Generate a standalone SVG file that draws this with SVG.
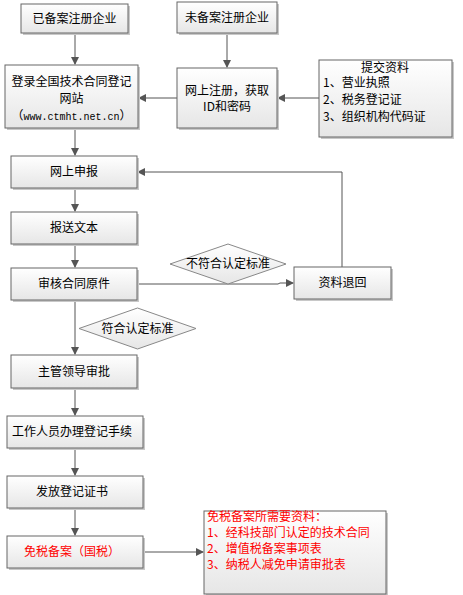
<svg xmlns="http://www.w3.org/2000/svg" width="463" height="595" viewBox="0 0 463 595">
<defs>
<linearGradient id="g" x1="0" y1="0" x2="0" y2="1">
<stop offset="0" stop-color="#ffffff"/>
<stop offset="1" stop-color="#e6e6e6"/>
</linearGradient>
<marker id="ah" markerWidth="8" markerHeight="8" refX="7" refY="4" orient="auto" markerUnits="userSpaceOnUse">
<path d="M0,0 L8,4 L0,8 Z" fill="#555"/>
</marker>
<style>
.box{fill:url(#g);stroke:#666;stroke-width:1}
.sh{fill:#c8c8c8}
.dia{fill:url(#g);stroke:#888;stroke-width:1}
text{font-family:"Noto Sans CJK SC","Noto Sans",sans-serif;font-size:12px;fill:#000}
.mono{font-family:"Liberation Mono","Noto Sans CJK SC",monospace;font-size:10px}
.c{text-anchor:middle}
.red{fill:#ff0000}
.ln{fill:none;stroke:#555;stroke-width:1;marker-end:url(#ah)}
</style>
</defs>
<rect width="463" height="595" fill="#fff"/>
<g id="connectors">
<path class="ln" d="M75,33 V64"/>
<path class="ln" d="M227,33 V67"/>
<path class="ln" d="M177,98 H139"/>
<path class="ln" d="M319,98 H278"/>
<path class="ln" d="M75,128 V155"/>
<path class="ln" d="M75,188 V211"/>
<path class="ln" d="M75,244 V267"/>
<path class="ln" d="M137,284 H278 L280,283 H293"/>
<path class="ln" d="M342,267 V172 H138"/>
<path class="ln" d="M75,300 V354"/>
<path class="ln" d="M75,388 V415"/>
<path class="ln" d="M75,448 V475"/>
<path class="ln" d="M75,508 V535"/>
<path class="ln" d="M143,552 H203"/>
</g>
<g id="n1"><rect class="sh" x="23" y="6" width="107" height="29"/><rect class="box" x="21" y="4" width="107" height="29"/><text class="c" x="74.5" y="23">已备案注册企业</text></g>
<g id="n2"><rect class="sh" x="179" y="4" width="100" height="31"/><rect class="box" x="177" y="2" width="100" height="31"/><text class="c" x="227" y="22">未备案注册企业</text></g>
<g id="n3"><rect class="sh" x="7" y="67" width="133" height="63"/><rect class="box" x="5" y="65" width="133" height="63"/>
<text class="c" x="71.5" y="86">登录全国技术合同登记</text><text class="c" x="71.5" y="103">网站</text><text class="c" x="71.5" y="120">（<tspan class="mono">www.ctmht.net.cn</tspan>）</text></g>
<g id="n4"><rect class="sh" x="179" y="70" width="100" height="60"/><rect class="box" x="177" y="68" width="100" height="60"/>
<text class="c" x="227" y="95">网上注册，获取</text><text class="c" x="227" y="111">ID和密码</text></g>
<g id="n5"><rect class="sh" x="321" y="62" width="133" height="77"/><rect class="box" x="319" y="60" width="133" height="77"/>
<text class="c" x="385" y="72">提交资料</text><text x="323" y="87">1、营业执照</text><text x="323" y="104">2、税务登记证</text><text x="323" y="121">3、组织机构代码证</text></g>
<g id="n6"><rect class="sh" x="13" y="158" width="126" height="32"/><rect class="box" x="11" y="156" width="126" height="32"/><text class="c" x="74" y="176">网上申报</text></g>
<g id="n7"><rect class="sh" x="13" y="214" width="126" height="32"/><rect class="box" x="11" y="212" width="126" height="32"/><text class="c" x="74" y="232">报送文本</text></g>
<g id="n8"><rect class="sh" x="13" y="270" width="126" height="32"/><rect class="box" x="11" y="268" width="126" height="32"/><text class="c" x="74" y="288">审核合同原件</text></g>
<g id="n9"><rect class="sh" x="296" y="269" width="97" height="32"/><rect class="box" x="294" y="267" width="97" height="32"/><text class="c" x="342.5" y="287">资料退回</text></g>
<g id="d1"><polygon class="dia" points="170,264 228,244 286,264 228,284"/><text class="c" x="228" y="268">不符合认定标准</text></g>
<g id="d2"><polygon class="dia" points="79,328.5 137.5,308 196,328.5 137.5,349"/><text class="c" x="137.5" y="332.5">符合认定标准</text></g>
<g id="n10"><rect class="sh" x="13" y="357" width="126" height="33"/><rect class="box" x="11" y="355" width="126" height="33"/><text class="c" x="74" y="376">主管领导审批</text></g>
<g id="n11"><rect class="sh" x="9" y="418" width="136" height="32"/><rect class="box" x="7" y="416" width="136" height="32"/><text class="c" x="72" y="436">工作人员办理登记手续</text></g>
<g id="n12"><rect class="sh" x="9" y="478" width="136" height="32"/><rect class="box" x="7" y="476" width="136" height="32"/><text class="c" x="72" y="496">发放登记证书</text></g>
<g id="n13"><rect class="sh" x="9" y="538" width="136" height="32"/><rect class="box" x="7" y="536" width="136" height="32"/><text class="c red" x="72" y="556">免税备案（国税）</text></g>
<g id="n14"><rect class="sh" x="206" y="513" width="182" height="83"/><rect class="box" x="204" y="511" width="182" height="83"/>
<text class="red" x="207" y="521">免税备案所需要资料：</text><text class="red" x="207" y="537">1、经科技部门认定的技术合同</text><text class="red" x="207" y="553">2、增值税备案事项表</text><text class="red" x="207" y="569">3、纳税人减免申请审批表</text></g>
</svg>
